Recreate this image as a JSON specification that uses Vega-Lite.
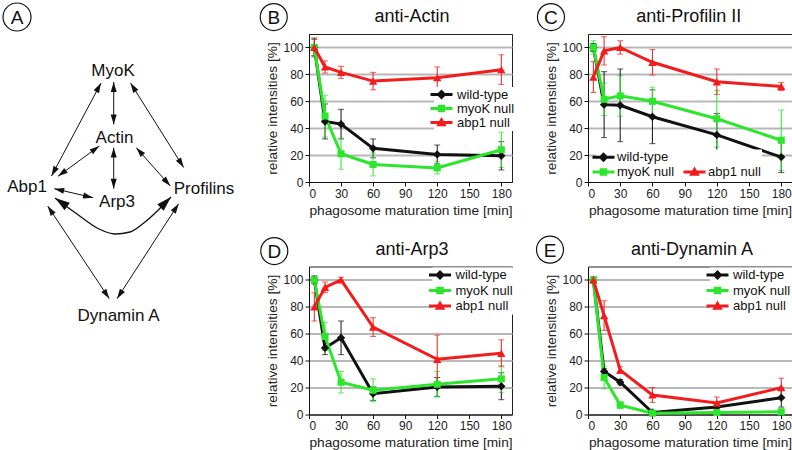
{
  "$schema": "https://vega.github.io/schema/vega-lite/v6.json",
  "padding": 0,
  "autosize": {"type": "pad"},
  "background": "white",
  "config": {
    "font": "Liberation Sans",
    "view": {"stroke": "#222222", "strokeWidth": 1},
    "axis": {"labelFont": "Liberation Sans", "labelFontSize": 12, "labelColor": "#222222", "titleFont": "Liberation Sans", "titleFontSize": 13.7, "titleFontWeight": "normal", "titleColor": "#222222", "domainColor": "#111111", "tickColor": "#111111", "tickSize": 4, "gridColor": "#b8b8b8", "gridWidth": 2, "labelPadding": 2},
    "axisY": {"titlePadding": 3},
    "legend": {"labelFont": "Liberation Sans", "labelFontSize": 13, "labelColor": "#111111", "symbolSize": 100, "symbolStrokeWidth": 0, "padding": 1, "fillColor": "white", "labelOffset": 9}
  },
  "datasets": {
    "edges": [
      {"x": 99, "y": 81, "x2": 49.5, "y2": 174},
      {"x": 111.7, "y": 80, "x2": 111.7, "y2": 122.5},
      {"x": 128.5, "y": 81, "x2": 181.7, "y2": 165.5},
      {"x": 97.3, "y": 144, "x2": 56, "y2": 174.3},
      {"x": 111.7, "y": 145.7, "x2": 111.7, "y2": 186.7},
      {"x": 134.3, "y": 145.7, "x2": 168.3, "y2": 184},
      {"x": 52.3, "y": 186.7, "x2": 91, "y2": 195.7},
      {"x": 45.7, "y": 204, "x2": 107.3, "y2": 296.7},
      {"x": 176.7, "y": 201.7, "x2": 115, "y2": 296.7}
    ],
    "curve": [
      {"i": 0, "x": 53, "y": 196},
      {"i": 1, "x": 75, "y": 212},
      {"i": 2, "x": 97, "y": 227},
      {"i": 3, "x": 113, "y": 232},
      {"i": 4, "x": 128, "y": 230},
      {"i": 5, "x": 143, "y": 220},
      {"i": 6, "x": 169, "y": 195}
    ],
    "curveHeads": [
      {"x": 53, "y": 196, "fx": 66, "fy": 205},
      {"x": 169, "y": 195, "fx": 158, "fy": 206}
    ],
    "labels": [
      {"label": "MyoK", "x": 111, "y": 69},
      {"label": "Actin", "x": 112.5, "y": 136},
      {"label": "Abp1", "x": 25, "y": 185},
      {"label": "Arp3", "x": 115, "y": 200},
      {"label": "Profilins", "x": 202, "y": 187},
      {"label": "Dynamin A", "x": 116.5, "y": 314}
    ],
    "actin": [
      {"series": "wild-type", "t": 5, "v": 100, "e": 7},
      {"series": "wild-type", "t": 15, "v": 45, "e": 13},
      {"series": "wild-type", "t": 30, "v": 43, "e": 11},
      {"series": "wild-type", "t": 60, "v": 25, "e": 7},
      {"series": "wild-type", "t": 120, "v": 20.5, "e": 7},
      {"series": "wild-type", "t": 180, "v": 19.5, "e": 10.5},
      {"series": "myoK null", "t": 5, "v": 100, "e": 6},
      {"series": "myoK null", "t": 15, "v": 49, "e": 15.5},
      {"series": "myoK null", "t": 30, "v": 21, "e": 11.5},
      {"series": "myoK null", "t": 60, "v": 13, "e": 8.5},
      {"series": "myoK null", "t": 120, "v": 10.5, "e": 4.5},
      {"series": "myoK null", "t": 180, "v": 24, "e": 13},
      {"series": "abp1 null", "t": 5, "v": 100, "e": 6},
      {"series": "abp1 null", "t": 15, "v": 85.5, "e": 4.5},
      {"series": "abp1 null", "t": 30, "v": 81.5, "e": 4.5},
      {"series": "abp1 null", "t": 60, "v": 75, "e": 6.5},
      {"series": "abp1 null", "t": 120, "v": 77.5, "e": 8},
      {"series": "abp1 null", "t": 180, "v": 83.5, "e": 11}
    ],
    "profilin": [
      {"series": "wild-type", "t": 5, "v": 100, "e": 3},
      {"series": "wild-type", "t": 15, "v": 57.5, "e": 24.5},
      {"series": "wild-type", "t": 30, "v": 57, "e": 27},
      {"series": "wild-type", "t": 60, "v": 48.5, "e": 20},
      {"series": "wild-type", "t": 120, "v": 35, "e": 16},
      {"series": "wild-type", "t": 180, "v": 18.5, "e": 11.5},
      {"series": "myoK null", "t": 5, "v": 100, "e": 5},
      {"series": "myoK null", "t": 15, "v": 61.5, "e": 12},
      {"series": "myoK null", "t": 30, "v": 64, "e": 15},
      {"series": "myoK null", "t": 60, "v": 60, "e": 10.5},
      {"series": "myoK null", "t": 120, "v": 47, "e": 21},
      {"series": "myoK null", "t": 180, "v": 31, "e": 22.5},
      {"series": "abp1 null", "t": 5, "v": 78, "e": 11.5},
      {"series": "abp1 null", "t": 15, "v": 97.5, "e": 10.5},
      {"series": "abp1 null", "t": 30, "v": 100, "e": 5},
      {"series": "abp1 null", "t": 60, "v": 89, "e": 9.5},
      {"series": "abp1 null", "t": 120, "v": 74.5, "e": 9.5},
      {"series": "abp1 null", "t": 180, "v": 71, "e": 3}
    ],
    "arp3": [
      {"series": "wild-type", "t": 5, "v": 100, "e": 3},
      {"series": "wild-type", "t": 15, "v": 49.5, "e": 5},
      {"series": "wild-type", "t": 30, "v": 57, "e": 12.5},
      {"series": "wild-type", "t": 60, "v": 15.5, "e": 5},
      {"series": "wild-type", "t": 120, "v": 20.5, "e": 7},
      {"series": "wild-type", "t": 180, "v": 21, "e": 10},
      {"series": "myoK null", "t": 5, "v": 100, "e": 2},
      {"series": "myoK null", "t": 15, "v": 58, "e": 10.5},
      {"series": "myoK null", "t": 30, "v": 24, "e": 8},
      {"series": "myoK null", "t": 60, "v": 18, "e": 8.5},
      {"series": "myoK null", "t": 120, "v": 22.5, "e": 9.5},
      {"series": "myoK null", "t": 180, "v": 26.5, "e": 10},
      {"series": "abp1 null", "t": 5, "v": 80, "e": 10.5},
      {"series": "abp1 null", "t": 15, "v": 94.5, "e": 4},
      {"series": "abp1 null", "t": 30, "v": 100, "e": 2},
      {"series": "abp1 null", "t": 60, "v": 65, "e": 7},
      {"series": "abp1 null", "t": 120, "v": 41, "e": 18},
      {"series": "abp1 null", "t": 180, "v": 45.5, "e": 10}
    ],
    "dynamin": [
      {"series": "wild-type", "t": 5, "v": 100, "e": 2},
      {"series": "wild-type", "t": 15, "v": 32, "e": 2},
      {"series": "wild-type", "t": 30, "v": 24, "e": 2},
      {"series": "wild-type", "t": 60, "v": 1.5, "e": 1},
      {"series": "wild-type", "t": 120, "v": 5.5, "e": 2},
      {"series": "wild-type", "t": 180, "v": 12.5, "e": 7},
      {"series": "myoK null", "t": 5, "v": 100, "e": 2},
      {"series": "myoK null", "t": 15, "v": 27.5, "e": 8.5},
      {"series": "myoK null", "t": 30, "v": 7, "e": 2.5},
      {"series": "myoK null", "t": 60, "v": 1, "e": 1},
      {"series": "myoK null", "t": 120, "v": 1.5, "e": 1},
      {"series": "myoK null", "t": 180, "v": 2, "e": 2},
      {"series": "abp1 null", "t": 5, "v": 100, "e": 2},
      {"series": "abp1 null", "t": 15, "v": 73.5, "e": 11},
      {"series": "abp1 null", "t": 30, "v": 33, "e": 2.5},
      {"series": "abp1 null", "t": 60, "v": 14.5, "e": 5.5},
      {"series": "abp1 null", "t": 120, "v": 8.5, "e": 4.5},
      {"series": "abp1 null", "t": 180, "v": 20, "e": 7}
    ]
  },
  "bounds": "flush",
  "columns": 3,
  "spacing": {"row": 84.5, "column": 76},
  "resolve": {"scale": {"x": "independent", "y": "independent", "color": "independent", "shape": "independent"}, "legend": {"color": "independent", "shape": "independent"}, "axis": {"x": "independent", "y": "independent"}},
  "concat": [
    {
      "width": 231,
      "height": 148,
      "view": {"stroke": null},
      "layer": [
        {
          "data": {"name": "edges"},
          "mark": {"type": "rule", "color": "#111111", "strokeWidth": 1},
          "encoding": {
            "x": {"field": "x", "type": "quantitative", "scale": {"domain": [0, 231], "nice": false, "zero": false}, "axis": null},
            "y": {"field": "y", "type": "quantitative", "scale": {"domain": [32, 180], "range": [0, 148], "nice": false, "zero": false}, "axis": null},
            "x2": {"field": "x2"},
            "y2": {"field": "y2"}
          }
        },
        {
          "data": {"name": "edges"},
          "transform": [{"calculate": "atan2(datum.x2 - datum.x, datum.y - datum.y2) * 180 / PI", "as": "ang"}],
          "mark": {"type": "point", "shape": "M0,0L1,3.3L-1,3.3Z", "size": 36, "filled": true, "color": "#111111", "opacity": 1, "strokeWidth": 0},
          "encoding": {
            "x": {"field": "x2", "type": "quantitative", "axis": null},
            "y": {"field": "y2", "type": "quantitative", "axis": null},
            "angle": {"field": "ang", "type": "quantitative", "scale": null}
          }
        },
        {
          "data": {"name": "edges"},
          "transform": [{"calculate": "atan2(datum.x - datum.x2, datum.y2 - datum.y) * 180 / PI", "as": "ang"}],
          "mark": {"type": "point", "shape": "M0,0L1,3.3L-1,3.3Z", "size": 36, "filled": true, "color": "#111111", "opacity": 1, "strokeWidth": 0},
          "encoding": {
            "x": {"field": "x", "type": "quantitative", "axis": null},
            "y": {"field": "y", "type": "quantitative", "axis": null},
            "angle": {"field": "ang", "type": "quantitative", "scale": null}
          }
        },
        {
          "data": {"name": "curve"},
          "mark": {"type": "line", "interpolate": "monotone", "color": "#111111", "strokeWidth": 1.3},
          "encoding": {
            "x": {"field": "x", "type": "quantitative", "axis": null},
            "y": {"field": "y", "type": "quantitative", "axis": null},
            "order": {"field": "i", "type": "quantitative"}
          }
        },
        {
          "data": {"name": "curveHeads"},
          "transform": [{"calculate": "atan2(datum.x - datum.fx, datum.fy - datum.y) * 180 / PI", "as": "ang"}],
          "mark": {"type": "point", "shape": "M0,0L1,3.3L-1,3.3Z", "size": 81, "filled": true, "color": "#111111", "opacity": 1, "strokeWidth": 0},
          "encoding": {
            "x": {"field": "x", "type": "quantitative", "axis": null},
            "y": {"field": "y", "type": "quantitative", "axis": null},
            "angle": {"field": "ang", "type": "quantitative", "scale": null}
          }
        },
        {
          "data": {"name": "labels"},
          "mark": {"type": "text", "fontSize": 17, "font": "Liberation Sans", "color": "#111111", "baseline": "middle", "align": "center"},
          "encoding": {
            "x": {"field": "x", "type": "quantitative", "axis": null},
            "y": {"field": "y", "type": "quantitative", "axis": null},
            "text": {"field": "label"}
          }
        },
        {
          "data": {"values": [{}]},
          "mark": {"type": "point", "shape": "circle", "size": 784, "filled": false, "strokeWidth": 1.2, "color": "#111111", "opacity": 1},
          "encoding": {
            "x": {"datum": 15, "type": "quantitative", "axis": null},
            "y": {"datum": 15, "type": "quantitative", "axis": null}
          }
        },
        {
          "data": {"values": [{}]},
          "mark": {"type": "text", "text": "A", "fontSize": 19, "color": "#111111", "baseline": "middle", "dy": 1},
          "encoding": {
            "x": {"datum": 15, "type": "quantitative", "axis": null},
            "y": {"datum": 15, "type": "quantitative", "axis": null}
          }
        }
      ]
    },
    {
      "width": 203,
      "height": 148,
      "layer": [
        {
          "data": {"name": "actin"},
          "encoding": {
            "x": {"field": "t", "type": "quantitative", "title": "phagosome maturation time [min]", "scale": {"domain": [0, 190], "nice": false, "zero": false}, "axis": {"values": [0, 30, 60, 90, 120, 150, 180], "tickCount": 20, "grid": false}},
            "y": {"field": "v", "type": "quantitative", "title": "relative intensities [%]", "scale": {"domain": [0, 110], "nice": false, "zero": false}, "axis": {"values": [0, 20, 40, 60, 80, 100], "tickCount": 20, "grid": true, "gridColor": {"condition": {"test": "datum.value === 0", "value": "transparent"}, "value": "#b8b8b8"}}},
            "color": {"field": "series", "type": "nominal", "scale": {"domain": ["wild-type", "myoK null", "abp1 null"], "range": ["#111111", "#2ee52e", "#f21c1c"]}, "legend": null}
          },
          "layer": [
            {"transform": [{"filter": "false"}], "mark": {"type": "point", "filled": true, "opacity": 1},
              "encoding": {
                "color": {"field": "series", "type": "nominal", "scale": {"domain": ["wild-type", "myoK null", "abp1 null"], "range": ["#111111", "#2ee52e", "#f21c1c"]}, "legend": {"orient": "none", "legendX": 125, "legendY": 53, "title": null, "rowPadding": -1, "labelOffset": 9}},
                "shape": {"field": "series", "type": "nominal", "scale": {"domain": ["wild-type", "myoK null", "abp1 null"], "range": ["M-2.2,-0.3H2.2V0.3H-2.2ZM0,-1L1,0L0,1L-1,0Z", "M-2.2,-0.3H2.2V0.3H-2.2ZM-0.75,-0.75H0.75V0.75H-0.75Z", "M-2.2,-0.3H2.2V0.3H-2.2ZM0,-1.1L1.05,0.75H-1.05Z"]}, "legend": {"orient": "none", "legendX": 125, "legendY": 53, "title": null, "rowPadding": -1, "labelOffset": 9}}
              }},
            {"mark": {"type": "errorbar", "ticks": true, "size": 6, "thickness": 1}, "encoding": {"yError": {"field": "e"}}},
            {"mark": {"type": "line", "strokeWidth": 3}},
            {"transform": [{"filter": "datum.series === 'wild-type'"}], "mark": {"type": "point", "shape": "diamond", "filled": true, "size": 70, "opacity": 1}},
            {"transform": [{"filter": "datum.series === 'myoK null'"}], "mark": {"type": "point", "shape": "square", "filled": true, "size": 50, "opacity": 1}},
            {"transform": [{"filter": "datum.series === 'abp1 null'"}], "mark": {"type": "point", "shape": "triangle-up", "filled": true, "size": 70, "opacity": 1}}
          ]
        },
        {"data": {"values": [{}]}, "mark": {"type": "point", "shape": "circle", "size": 729, "filled": false, "strokeWidth": 1.2, "color": "#111111", "opacity": 1},
          "encoding": {"x": {"datum": -33, "type": "quantitative", "title": "phagosome maturation time [min]"}, "y": {"datum": 122.6, "type": "quantitative", "title": "relative intensities [%]"}}},
        {"data": {"values": [{}]}, "mark": {"type": "text", "text": "B", "fontSize": 19, "color": "#111111", "baseline": "middle", "dy": 1},
          "encoding": {"x": {"datum": -33, "type": "quantitative", "title": "phagosome maturation time [min]"}, "y": {"datum": 122.6, "type": "quantitative", "title": "relative intensities [%]"}}},
        {"data": {"values": [{}]}, "mark": {"type": "text", "text": "anti-Actin", "fontSize": 18, "color": "#111111", "baseline": "middle", "align": "center"},
          "encoding": {"x": {"datum": 96.4, "type": "quantitative", "title": "phagosome maturation time [min]"}, "y": {"datum": 122.6, "type": "quantitative", "title": "relative intensities [%]"}}}
      ]
    },
    {
      "width": 204,
      "height": 148,
      "layer": [
        {
          "data": {"name": "profilin"},
          "encoding": {
            "x": {"field": "t", "type": "quantitative", "title": "phagosome maturation time [min]", "scale": {"domain": [0, 190], "nice": false, "zero": false}, "axis": {"values": [0, 30, 60, 90, 120, 150, 180], "tickCount": 20, "grid": false}},
            "y": {"field": "v", "type": "quantitative", "title": "relative intensities [%]", "scale": {"domain": [0, 110], "nice": false, "zero": false}, "axis": {"values": [0, 20, 40, 60, 80, 100], "tickCount": 20, "grid": true, "gridColor": {"condition": {"test": "datum.value === 0", "value": "transparent"}, "value": "#b8b8b8"}}},
            "color": {"field": "series", "type": "nominal", "scale": {"domain": ["wild-type", "myoK null", " ", "abp1 null"], "range": ["#111111", "#2ee52e", "#ffffff", "#f21c1c"]}, "legend": null}
          },
          "layer": [
            {"transform": [{"filter": "false"}], "mark": {"type": "point", "filled": true, "opacity": 1},
              "encoding": {
                "color": {"field": "series", "type": "nominal", "scale": {"domain": ["wild-type", "myoK null", " ", "abp1 null"], "range": ["#111111", "#2ee52e", "#ffffff", "#f21c1c"]}, "legend": {"orient": "none", "legendX": 8, "legendY": 115.5, "title": null, "rowPadding": 1, "columns": 2, "columnPadding": 8, "labelOffset": 7}},
                "shape": {"field": "series", "type": "nominal", "scale": {"domain": ["wild-type", "myoK null", " ", "abp1 null"], "range": ["M-2.2,-0.3H2.2V0.3H-2.2ZM0,-1L1,0L0,1L-1,0Z", "M-2.2,-0.3H2.2V0.3H-2.2ZM-0.75,-0.75H0.75V0.75H-0.75Z", "M0,0L0,0Z", "M-2.2,-0.3H2.2V0.3H-2.2ZM0,-1.1L1.05,0.75H-1.05Z"]}, "legend": {"orient": "none", "legendX": 8, "legendY": 115.5, "title": null, "rowPadding": 1, "columns": 2, "columnPadding": 8, "labelOffset": 7}}
              }},
            {"mark": {"type": "errorbar", "ticks": true, "size": 6, "thickness": 1}, "encoding": {"yError": {"field": "e"}}},
            {"mark": {"type": "line", "strokeWidth": 3}},
            {"transform": [{"filter": "datum.series === 'wild-type'"}], "mark": {"type": "point", "shape": "diamond", "filled": true, "size": 70, "opacity": 1}},
            {"transform": [{"filter": "datum.series === 'myoK null'"}], "mark": {"type": "point", "shape": "square", "filled": true, "size": 50, "opacity": 1}},
            {"transform": [{"filter": "datum.series === 'abp1 null'"}], "mark": {"type": "point", "shape": "triangle-up", "filled": true, "size": 70, "opacity": 1}}
          ]
        },
        {"data": {"values": [{}]}, "mark": {"type": "point", "shape": "circle", "size": 729, "filled": false, "strokeWidth": 1.2, "color": "#111111", "opacity": 1},
          "encoding": {"x": {"datum": -34.5, "type": "quantitative", "title": "phagosome maturation time [min]"}, "y": {"datum": 122.6, "type": "quantitative", "title": "relative intensities [%]"}}},
        {"data": {"values": [{}]}, "mark": {"type": "text", "text": "C", "fontSize": 19, "color": "#111111", "baseline": "middle", "dy": 1},
          "encoding": {"x": {"datum": -34.5, "type": "quantitative", "title": "phagosome maturation time [min]"}, "y": {"datum": 122.6, "type": "quantitative", "title": "relative intensities [%]"}}},
        {"data": {"values": [{}]}, "mark": {"type": "text", "text": "anti-Profilin II", "fontSize": 18, "color": "#111111", "baseline": "middle", "align": "center"},
          "encoding": {"x": {"datum": 93.8, "type": "quantitative", "title": "phagosome maturation time [min]"}, "y": {"datum": 122.6, "type": "quantitative", "title": "relative intensities [%]"}}}
      ]
    },
    {
      "width": 231,
      "height": 148,
      "view": {"stroke": null},
      "data": {"values": []},
      "mark": "point",
      "encoding": {}
    },
    {
      "width": 203,
      "height": 148,
      "layer": [
        {
          "data": {"name": "arp3"},
          "encoding": {
            "x": {"field": "t", "type": "quantitative", "title": "phagosome maturation time [min]", "scale": {"domain": [0, 190], "nice": false, "zero": false}, "axis": {"values": [0, 30, 60, 90, 120, 150, 180], "tickCount": 20, "grid": false}},
            "y": {"field": "v", "type": "quantitative", "title": "relative intensities [%]", "scale": {"domain": [0, 110], "nice": false, "zero": false}, "axis": {"values": [0, 20, 40, 60, 80, 100], "tickCount": 20, "grid": true, "gridColor": {"condition": {"test": "datum.value === 0", "value": "transparent"}, "value": "#b8b8b8"}}},
            "color": {"field": "series", "type": "nominal", "scale": {"domain": ["wild-type", "myoK null", "abp1 null"], "range": ["#111111", "#2ee52e", "#f21c1c"]}, "legend": null}
          },
          "layer": [
            {"transform": [{"filter": "false"}], "mark": {"type": "point", "filled": true, "opacity": 1},
              "encoding": {
                "color": {"field": "series", "type": "nominal", "scale": {"domain": ["wild-type", "myoK null", "abp1 null"], "range": ["#111111", "#2ee52e", "#f21c1c"]}, "legend": {"orient": "none", "legendX": 123.5, "legendY": 1, "title": null, "rowPadding": 1.5, "labelOffset": 9}},
                "shape": {"field": "series", "type": "nominal", "scale": {"domain": ["wild-type", "myoK null", "abp1 null"], "range": ["M-2.2,-0.3H2.2V0.3H-2.2ZM0,-1L1,0L0,1L-1,0Z", "M-2.2,-0.3H2.2V0.3H-2.2ZM-0.75,-0.75H0.75V0.75H-0.75Z", "M-2.2,-0.3H2.2V0.3H-2.2ZM0,-1.1L1.05,0.75H-1.05Z"]}, "legend": {"orient": "none", "legendX": 123.5, "legendY": 1, "title": null, "rowPadding": 1.5, "labelOffset": 9}}
              }},
            {"mark": {"type": "errorbar", "ticks": true, "size": 6, "thickness": 1}, "encoding": {"yError": {"field": "e"}}},
            {"mark": {"type": "line", "strokeWidth": 3}},
            {"transform": [{"filter": "datum.series === 'wild-type'"}], "mark": {"type": "point", "shape": "diamond", "filled": true, "size": 70, "opacity": 1}},
            {"transform": [{"filter": "datum.series === 'myoK null'"}], "mark": {"type": "point", "shape": "square", "filled": true, "size": 50, "opacity": 1}},
            {"transform": [{"filter": "datum.series === 'abp1 null'"}], "mark": {"type": "point", "shape": "triangle-up", "filled": true, "size": 70, "opacity": 1}}
          ]
        },
        {"data": {"values": [{}]}, "mark": {"type": "point", "shape": "circle", "size": 729, "filled": false, "strokeWidth": 1.2, "color": "#111111", "opacity": 1},
          "encoding": {"x": {"datum": -32.5, "type": "quantitative", "title": "phagosome maturation time [min]"}, "y": {"datum": 121.5, "type": "quantitative", "title": "relative intensities [%]"}}},
        {"data": {"values": [{}]}, "mark": {"type": "text", "text": "D", "fontSize": 19, "color": "#111111", "baseline": "middle", "dy": 1},
          "encoding": {"x": {"datum": -32.5, "type": "quantitative", "title": "phagosome maturation time [min]"}, "y": {"datum": 121.5, "type": "quantitative", "title": "relative intensities [%]"}}},
        {"data": {"values": [{}]}, "mark": {"type": "text", "text": "anti-Arp3", "fontSize": 18, "color": "#111111", "baseline": "middle", "align": "center"},
          "encoding": {"x": {"datum": 96.4, "type": "quantitative", "title": "phagosome maturation time [min]"}, "y": {"datum": 122, "type": "quantitative", "title": "relative intensities [%]"}}}
      ]
    },
    {
      "width": 204,
      "height": 148,
      "layer": [
        {
          "data": {"name": "dynamin"},
          "encoding": {
            "x": {"field": "t", "type": "quantitative", "title": "phagosome maturation time [min]", "scale": {"domain": [0, 190], "nice": false, "zero": false}, "axis": {"values": [0, 30, 60, 90, 120, 150, 180], "tickCount": 20, "grid": false}},
            "y": {"field": "v", "type": "quantitative", "title": "relative intensities [%]", "scale": {"domain": [0, 110], "nice": false, "zero": false}, "axis": {"values": [0, 20, 40, 60, 80, 100], "tickCount": 20, "grid": true, "gridColor": {"condition": {"test": "datum.value === 0", "value": "transparent"}, "value": "#b8b8b8"}}},
            "color": {"field": "series", "type": "nominal", "scale": {"domain": ["wild-type", "myoK null", "abp1 null"], "range": ["#111111", "#2ee52e", "#f21c1c"]}, "legend": null}
          },
          "layer": [
            {"transform": [{"filter": "false"}], "mark": {"type": "point", "filled": true, "opacity": 1},
              "encoding": {
                "color": {"field": "series", "type": "nominal", "scale": {"domain": ["wild-type", "myoK null", "abp1 null"], "range": ["#111111", "#2ee52e", "#f21c1c"]}, "legend": {"orient": "none", "legendX": 122, "legendY": 1, "title": null, "rowPadding": 1.5, "labelOffset": 9}},
                "shape": {"field": "series", "type": "nominal", "scale": {"domain": ["wild-type", "myoK null", "abp1 null"], "range": ["M-2.2,-0.3H2.2V0.3H-2.2ZM0,-1L1,0L0,1L-1,0Z", "M-2.2,-0.3H2.2V0.3H-2.2ZM-0.75,-0.75H0.75V0.75H-0.75Z", "M-2.2,-0.3H2.2V0.3H-2.2ZM0,-1.1L1.05,0.75H-1.05Z"]}, "legend": {"orient": "none", "legendX": 122, "legendY": 1, "title": null, "rowPadding": 1.5, "labelOffset": 9}}
              }},
            {"mark": {"type": "errorbar", "ticks": true, "size": 6, "thickness": 1}, "encoding": {"yError": {"field": "e"}}},
            {"mark": {"type": "line", "strokeWidth": 3}},
            {"transform": [{"filter": "datum.series === 'wild-type'"}], "mark": {"type": "point", "shape": "diamond", "filled": true, "size": 70, "opacity": 1}},
            {"transform": [{"filter": "datum.series === 'myoK null'"}], "mark": {"type": "point", "shape": "square", "filled": true, "size": 50, "opacity": 1}},
            {"transform": [{"filter": "datum.series === 'abp1 null'"}], "mark": {"type": "point", "shape": "triangle-up", "filled": true, "size": 70, "opacity": 1}}
          ]
        },
        {"data": {"values": [{}]}, "mark": {"type": "point", "shape": "circle", "size": 729, "filled": false, "strokeWidth": 1.2, "color": "#111111", "opacity": 1},
          "encoding": {"x": {"datum": -35.4, "type": "quantitative", "title": "phagosome maturation time [min]"}, "y": {"datum": 122.5, "type": "quantitative", "title": "relative intensities [%]"}}},
        {"data": {"values": [{}]}, "mark": {"type": "text", "text": "E", "fontSize": 19, "color": "#111111", "baseline": "middle", "dy": 1},
          "encoding": {"x": {"datum": -35.4, "type": "quantitative", "title": "phagosome maturation time [min]"}, "y": {"datum": 122.5, "type": "quantitative", "title": "relative intensities [%]"}}},
        {"data": {"values": [{}]}, "mark": {"type": "text", "text": "anti-Dynamin A", "fontSize": 18, "color": "#111111", "baseline": "middle", "align": "center"},
          "encoding": {"x": {"datum": 96.9, "type": "quantitative", "title": "phagosome maturation time [min]"}, "y": {"datum": 122.5, "type": "quantitative", "title": "relative intensities [%]"}}}
      ]
    }
  ]
}
